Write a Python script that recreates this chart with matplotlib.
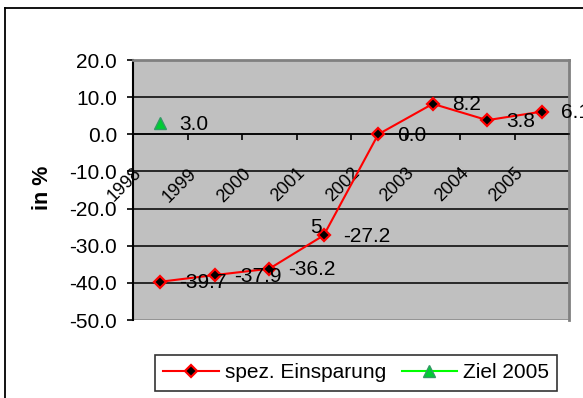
import numpy as np
import matplotlib.pyplot as plt
from matplotlib.lines import Line2D

plt.rcParams['font.family'] = ['Liberation Sans', 'DejaVu Sans']

years = ['1998', '1999', '2000', '2001', '2002', '2003', '2004', '2005']
einsparung = [-39.7, -37.9, -36.2, -27.2, 0.0, 8.2, 3.8, 6.1]
ziel = [3.0, np.nan, np.nan, np.nan, np.nan, np.nan, np.nan, np.nan]
y_ticks = [20, 10, 0, -10, -20, -30, -40, -50]

W, H = 583, 398
fig = plt.figure(figsize=(W / 100, H / 100), dpi=100)

# chart frame (runs off the right and bottom edge)
fig.add_artist(Line2D([5 / W, 1.0], [1 - 8 / H, 1 - 8 / H], color='black', lw=1.3))
fig.add_artist(Line2D([5 / W, 5 / W], [0.0, 1 - 8 / H], color='black', lw=1.3))

ax = fig.add_axes([133 / W, 1 - 320 / H, (569 - 133) / W, (320 - 60) / H])
ax.set_facecolor('#C0C0C0')

x = np.arange(len(years)) + 0.5
ax.set_xlim(0, len(years))
ax.set_ylim(-50, 20)

for v in y_ticks[1:-1]:
    ax.axhline(v, color='black', lw=1.1, zorder=1)

ax.plot(x, einsparung, color='#FF0000', lw=1.5, marker='D', ms=6,
        mfc='black', mec='#FF0000', mew=1.6, zorder=3, label='spez. Einsparung')
ax.plot(x, ziel, color='#00FF00', lw=1.5, marker='^', ms=8,
        mfc='#00CC33', mec='#339966', mew=1.0, zorder=3, label='Ziel 2005')

# value labels to the right of the points
for xi, v in zip(x, einsparung):
    ax.annotate(f'{v:.1f}', (xi, v), xytext=(19, -1), textcoords='offset pixels',
                ha='left', va='center', fontsize=15, zorder=4)
for xi, v in zip(x, ziel):
    if not np.isnan(v):
        ax.annotate(f'{v:.1f}', (xi, v), xytext=(19, -1), textcoords='offset pixels',
                    ha='left', va='center', fontsize=15, zorder=4)
ax.annotate('5', (x[3], einsparung[3]), xytext=(-2, 8), textcoords='offset pixels',
            ha='right', va='center', fontsize=15, zorder=4)

# spines
ax.spines['left'].set_linewidth(1.5)
ax.spines['bottom'].set_position(('data', 0))
ax.spines['bottom'].set_linewidth(1.1)
ax.spines['top'].set_color('#808080')
ax.spines['top'].set_linewidth(2)
ax.spines['right'].set_color('#808080')
ax.spines['right'].set_linewidth(2)
ax.axhline(-50, color='#909090', lw=2, zorder=0.5)

ax.set_yticks(y_ticks)
ax.set_yticklabels([f'{v:.1f}' for v in y_ticks], fontsize=15)
ax.tick_params(axis='y', direction='out', length=4.5, width=1.2, pad=7)

# tick marks between categories, year labels hang below the zero line
ax.xaxis.remove_overlapping_locs = False
ax.set_xticks(np.arange(1, len(years) + 1))
ax.set_xticklabels([])
ax.tick_params(axis='x', which='major', direction='out', length=4, width=1.2)
ax.set_xticks(np.arange(len(years)), minor=True)
ax.set_xticklabels(years, minor=True, fontsize=13)
ax.tick_params(axis='x', which='minor', length=0, pad=22)
plt.setp(ax.get_xticklabels(minor=True), rotation=45, ha='right',
         va='top', rotation_mode='anchor')

fig.text(42 / W, 1 - 188 / H, 'in %', rotation=90, fontsize=15.5,
         fontweight='bold', ha='center', va='center')

leg = ax.legend(loc='upper left', bbox_to_anchor=(155 / W, 1 - 355 / H),
                bbox_transform=fig.transFigure, ncol=2, fontsize=15,
                frameon=True, fancybox=False, borderaxespad=0,
                handlelength=2.65, handletextpad=0.3, columnspacing=0.75,
                borderpad=0.4)
leg.get_frame().set_edgecolor('black')
leg.get_frame().set_linewidth(1.2)

fig.savefig('out.png', dpi=100)
